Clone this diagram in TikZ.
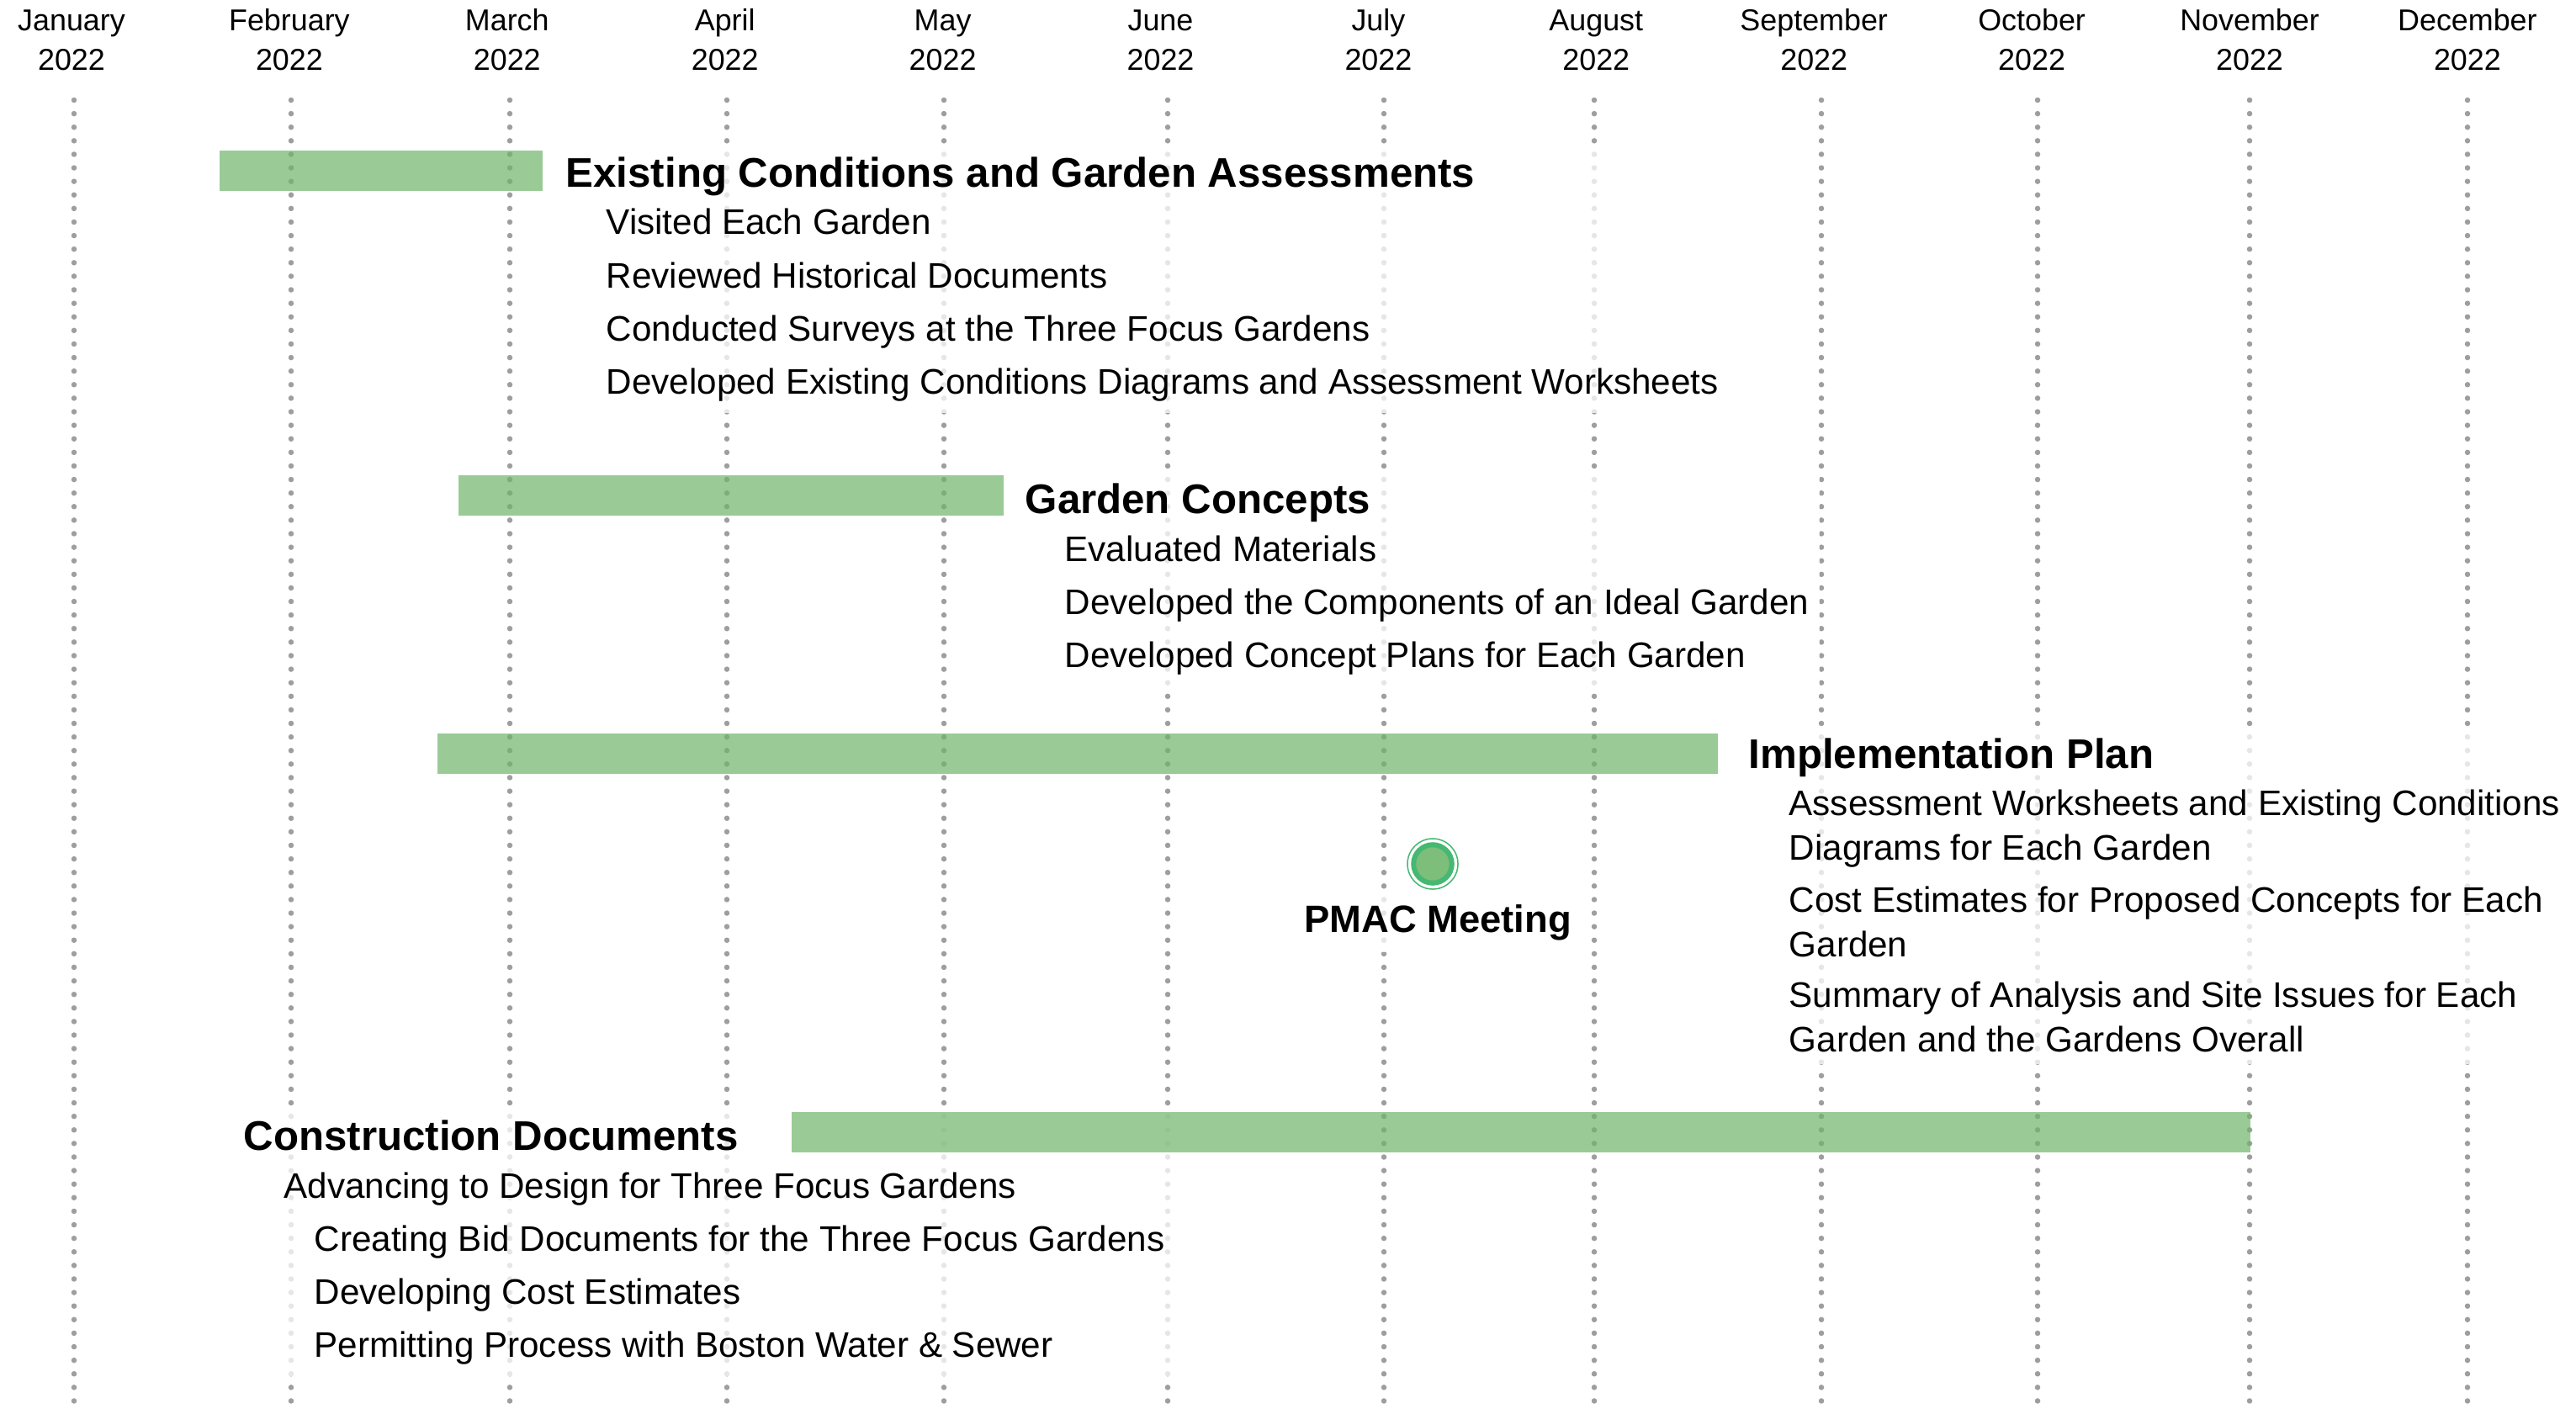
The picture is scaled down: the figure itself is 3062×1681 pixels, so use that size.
\documentclass[tikz,border=0pt]{standalone}
\usepackage{fontspec}
\setmainfont{Liberation Sans}
\usetikzlibrary{fit}
\definecolor{gridgray}{HTML}{9E9E9E}
\definecolor{barcol}{RGB}{112,181,108}
\definecolor{pmacring}{HTML}{45B871}
\definecolor{pmacfill}{HTML}{7EBE7B}
\pgfdeclarelayer{grid}\pgfdeclarelayer{veil}
\pgfsetlayers{grid,veil,main}

\begin{document}
\begin{tikzpicture}[x=0.01cm,y=-0.01cm,
  gridline/.style={draw=gridgray,line width=0.065cm,line cap=round,dash pattern=on 0cm off 0.161cm},
  month/.style={align=center,anchor=base,inner sep=0pt,font=\fontsize{10.2}{13.1}\selectfont},
  phase/.style={anchor=base west,inner sep=0pt,font=\fontsize{14}{17}\selectfont\bfseries},
  task/.style={anchor=base west,inner sep=0pt,align=left,font=\fontsize{12}{14.8}\selectfont},
  bar/.style={fill=barcol,fill opacity=0.7},
  textbg/.style={fill=white,fill opacity=0.75,inner xsep=0.12cm,inner ysep=0.14cm}]
\begin{pgfonlayer}{grid}
\fill[white] (0,0) rectangle (3062,1681); \path[use as bounding box] (0,0) rectangle (3062,1681);
\foreach \m/\d [count=\i from 0] in {January/88,February/346,March/606,April/864,May/1122,June/1388,July/1645,August/1895,September/2165,October/2422,November/2674,December/2933} {
  \draw[gridline] (\d,119) -- (\d,1681);
  \node[month] (m\i) at (85+258.9*\i,83) {\m\\2022}; };
\end{pgfonlayer}

\fill[bar] (261,179) rectangle (645,227);
\node[phase] (p1) at (672,222) {Existing Conditions and Garden Assessments};
\node[task] (p1a) at (720,278) {Visited Each Garden};
\node[task] (p1b) at (720,342) {Reviewed Historical Documents};
\node[task] (p1c) at (720,405) {Conducted Surveys at the Three Focus Gardens};
\node[task] (p1d) at (720,468) {Developed Existing Conditions Diagrams and Assessment Worksheets};

\fill[bar] (545,565) rectangle (1193,613);
\node[phase] (p2) at (1218,610) {Garden Concepts};
\node[task] (p2a) at (1265,667) {Evaluated Materials};
\node[task] (p2b) at (1265,730) {Developed the Components of an Ideal Garden};
\node[task] (p2c) at (1265,793) {Developed Concept Plans for Each Garden};

\fill[bar] (520,872) rectangle (2042,920);
\node[phase] (p3) at (2078,913) {Implementation Plan};
\node[task] (p3a) at (2126,1022) {Assessment Worksheets and Existing Conditions\\Diagrams for Each Garden};
\node[task] (p3b) at (2126,1137) {Cost Estimates for Proposed Concepts for Each\\Garden};
\node[task] (p3c) at (2126,1250) {Summary of Analysis and Site Issues for Each\\Garden and the Gardens Overall};

\node[circle,draw=pmacring,line width=0.015cm,minimum size=0.6cm,inner sep=0pt] (pmac) at (1703,1027) {};
\node[circle,draw=pmacring,fill=pmacfill,line width=0.06cm,minimum size=0.455cm,inner sep=0pt] at (pmac) {};
\node[phase,anchor=base,font=\fontsize{12.9}{15}\selectfont\bfseries] (pmaclbl) at (1709,1108) {PMAC Meeting};

\fill[bar] (941,1322) rectangle (2675,1370);
\node[phase] (p4) at (289,1367) {Construction Documents};
\node[task] (p4a) at (337,1424) {Advancing to Design for Three Focus Gardens};
\node[task] (p4b) at (373,1487) {Creating Bid Documents for the Three Focus Gardens};
\node[task] (p4c) at (373,1550) {Developing Cost Estimates};
\node[task] (p4d) at (373,1613) {Permitting Process with Boston Water \& Sewer};

\begin{pgfonlayer}{veil}
\node[textbg,fit=(p1)(p1d)] {};
\node[textbg,fit=(p2)(p2b)(p2c)] {};
\node[textbg,fit=(p3)(p3a)(p3c)] {};
\node[textbg,fit=(pmaclbl)] {};
\node[textbg,fit=(p4)(p4b)(p4d)] {};
\end{pgfonlayer}
\end{tikzpicture}
\end{document}
